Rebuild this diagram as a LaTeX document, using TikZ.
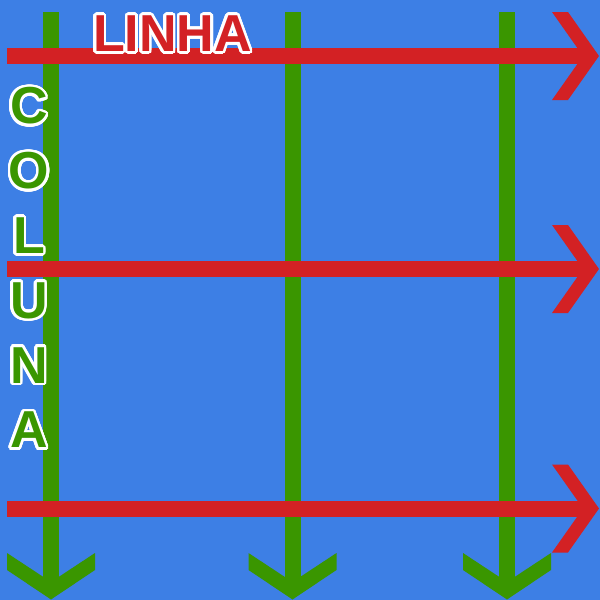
\documentclass[tikz,border=0pt]{standalone}
\usepackage{fontspec}
\setmainfont{Liberation Sans}
\usepackage{tikz}
\usepackage{contour}
\contourlength{2.6pt}
\contournumber{32}
\definecolor{SkyBlue}{HTML}{3D7FE5}
\definecolor{RowRed}{HTML}{D32124}
\definecolor{ColGreen}{HTML}{3A9600}

\tikzset{
  colshaft/.style={fill=ColGreen, draw=none},
  rowshaft/.style={fill=RowRed, draw=none},
  biglabel/.style={inner sep=0pt, font=\bfseries\fontsize{52}{64.8}\selectfont}
}

\begin{document}
\begin{tikzpicture}[x=1pt, y=-1pt]
  % Background
  \fill[SkyBlue] (0,0) rectangle (600,600);
  \useasboundingbox (0,0) rectangle (600,600);

  % Column arrows (green, pointing down)
  \foreach \cx in {51, 292.5, 507} {
    \fill[colshaft] (\cx-8,12) rectangle (\cx+8,585);
    \fill[colshaft] (\cx-44,553) -- (\cx,582) -- (\cx+44,553)
      -- (\cx+44,570) -- (\cx,599.5) -- (\cx-44,570) -- cycle;
  }

  % Row arrows (red, pointing right)
  \foreach \cy in {56, 269, 508.5} {
    \fill[rowshaft] (7,\cy-8) rectangle (585,\cy+8);
    \fill[rowshaft] (552,\cy-44) -- (568,\cy-44) -- (599,\cy)
      -- (568,\cy+44) -- (552,\cy+44) -- (583,\cy) -- cycle;
  }

  % Labels
  \node[biglabel, anchor=base] (linha) at (172.5,51.5)
    {\contour{white}{\textcolor{RowRed}{LINHA}}};
  \node[biglabel, align=center] (coluna) at (29,269)
    {\contour{white}{\textcolor{ColGreen}{C}}\\
     \contour{white}{\textcolor{ColGreen}{O}}\\
     \contour{white}{\textcolor{ColGreen}{L}}\\
     \contour{white}{\textcolor{ColGreen}{U}}\\
     \contour{white}{\textcolor{ColGreen}{N}}\\
     \contour{white}{\textcolor{ColGreen}{A}}};
\end{tikzpicture}
\end{document}
